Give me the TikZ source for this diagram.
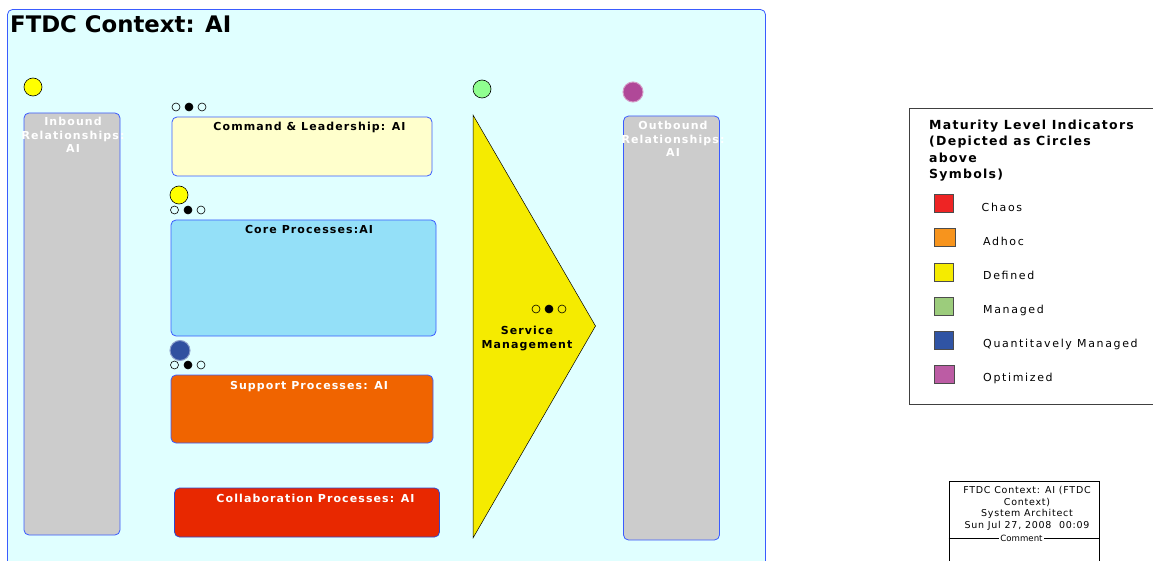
\documentclass[tikz,border=0pt]{standalone}
\usepackage{fontspec}
\setmainfont{DejaVu Sans}
\newfontfamily\lsfont[LetterSpace=10]{DejaVu Sans}
\newfontfamily\lslfont[LetterSpace=15]{DejaVu Sans}
\newfontfamily\infofont[LetterSpace=8]{DejaVu Sans}
\definecolor{framefill}{HTML}{E0FFFF}
\definecolor{boxblue}{HTML}{3A5BFF}
\definecolor{grayfill}{HTML}{CCCCCC}
\definecolor{cmdfill}{HTML}{FFFFCC}
\definecolor{corefill}{HTML}{94E0F8}
\definecolor{supfill}{HTML}{F06400}
\definecolor{colfill}{HTML}{E82800}
\definecolor{trifill}{HTML}{F5EB00}
\definecolor{ylw}{HTML}{FFFF00}
\definecolor{grn}{HTML}{90FF90}
\definecolor{qblue}{HTML}{3050A0}
\definecolor{purp}{HTML}{B04898}
\definecolor{lred}{HTML}{EE2424}
\definecolor{lorange}{HTML}{F7941D}
\definecolor{lyellow}{HTML}{F5EB00}
\definecolor{lgreen}{HTML}{9CCC7C}
\definecolor{lblue}{HTML}{3054A4}
\definecolor{lpink}{HTML}{BC5CA4}
\begin{document}
\begin{tikzpicture}[x=1pt,y=-1pt,
  box/.style={draw=boxblue, line width=0.8pt, rounded corners=5pt, inner sep=0pt, outer sep=0pt},
  lbl/.style={anchor=base, inner sep=0pt, align=center, font=\lsfont\bfseries\fontsize{11}{13.5}\selectfont},
  wlbl/.style={lbl, text=white},
  mcirc/.style={circle, draw=black, line width=0.6pt, minimum size=18pt, inner sep=0pt},
  softcirc/.style={circle, line width=1pt, minimum size=20pt, inner sep=0pt},
  dot/.style={circle, draw=black, line width=0.6pt, minimum size=8pt, inner sep=0pt},
  fdot/.style={dot, fill=black},
  legsq/.style={draw=black!70, line width=0.5pt, inner sep=0pt, minimum width=19pt, minimum height=18pt, anchor=north west},
  leglbl/.style={anchor=base west, inner sep=0pt, font=\lslfont\fontsize{11}{13}\selectfont},
  infolbl/.style={anchor=base, inner sep=0pt, font=\infofont\fontsize{9.5}{11.7}\selectfont}
]
\useasboundingbox (0,0) rectangle (1153,561);
% outer frame
\node[box, draw=boxblue, fill=framefill, minimum width=758pt, minimum height=570pt, anchor=north west] (frame) at (7.5,9.5) {};
\node[anchor=base west, inner sep=0pt, font=\bfseries\fontsize{22.8}{26}\selectfont] (title) at (10,33) {FTDC Context: AI};

% inbound
\node[box, fill=grayfill, minimum width=96pt, minimum height=422pt, anchor=north west] (inb) at (24,113) {};
\node[wlbl] (inbt) at (73,153) {Inbound\\Relationships:\\AI};
\node[mcirc, fill=ylw] (inbc) at (33,87) {};

% command
\node[box, fill=cmdfill, minimum width=260pt, minimum height=59pt, anchor=north west] (cmd) at (172,117) {};
\node[lbl] (cmdt) at (309.5,131) {Command \& Leadership: AI};
\node[dot] (d1a) at (176,107) {};
\node[fdot] (d1b) at (189,107) {};
\node[dot] (d1c) at (202,107) {};

% core
\node[mcirc, fill=ylw] (corec) at (179,195) {};
\node[dot] (d2a) at (174.5,210) {};
\node[fdot] (d2b) at (188,210) {};
\node[dot] (d2c) at (201,210) {};
\node[box, fill=corefill, minimum width=265pt, minimum height=116pt, anchor=north west] (core) at (171,220) {};
\node[lbl] (coret) at (309,234) {Core Processes:AI};

% support
\node[softcirc, fill=qblue, draw=qblue!55!white] (supc) at (180,350.5) {};
\node[dot] (d3a) at (174.5,365) {};
\node[fdot] (d3b) at (188,365) {};
\node[dot] (d3c) at (201,365) {};
\node[box, fill=supfill, minimum width=262pt, minimum height=68pt, anchor=north west] (sup) at (171,375) {};
\node[wlbl] (supt) at (309,389) {Support Processes: AI};

% collaboration
\node[box, fill=colfill, draw=boxblue!80!black, minimum width=265pt, minimum height=49pt, anchor=north west] (col) at (174.5,488) {};
\node[wlbl] (colt) at (315.5,502) {Collaboration Processes: AI};

% service management
\node[mcirc, fill=grn] (svcc) at (482,89) {};
\coordinate (tA) at (473,115);
\coordinate (tB) at (595.5,326);
\coordinate (tC) at (473,538);
\draw[fill=trifill, draw=black, line width=0.5pt] (tA) -- (tB) -- (tC) -- cycle;
\node[dot] (d4a) at (536,309) {};
\node[fdot] (d4b) at (549,309) {};
\node[dot] (d4c) at (562,309) {};
\node[lbl] (svct) at (527,348) {Service\\Management};

% outbound
\node[softcirc, fill=purp, draw=purp!55!white] (outc) at (633,92) {};
\node[box, fill=grayfill, minimum width=96pt, minimum height=424pt, anchor=north west] (outb) at (623.5,116) {};
\node[wlbl] (outbt) at (673,157) {Outbound\\Relationships:\\AI};

% legend
\node[draw=black!75, line width=0.7pt, fill=white, minimum width=260pt, minimum height=295pt, anchor=north west, inner sep=0pt] (leg) at (908.5,108.5) {};
\node[anchor=base west, inner sep=0pt, align=left, font=\lsfont\bfseries\fontsize{12.5}{16.5}\selectfont] (legt) at (929,179) {Maturity Level Indicators\\(Depicted as Circles\\above\\Symbols)};
\node[legsq, fill=lred] (sq1) at (934,194.5) {};
\node[legsq, fill=lorange, minimum width=21pt] (sq2) at (934,228.5) {};
\node[legsq, fill=lyellow] (sq3) at (934,263) {};
\node[legsq, fill=lgreen] (sq4) at (934,297) {};
\node[legsq, fill=lblue] (sq5) at (934,331) {};
\node[legsq, fill=lpink, minimum width=20pt] (sq6) at (934,365) {};
\node[leglbl] (l1) at (981.5,212) {Chaos};
\node[leglbl] (l2) at (983,245.5) {Adhoc};
\node[leglbl] (l3) at (983,279.5) {Defined};
\node[leglbl] (l4) at (983,313) {Managed};
\node[leglbl] (l5) at (983,347) {Quantitavely Managed};
\node[leglbl] (l6) at (983,381) {Optimized};

% info box
\node[draw=black, line width=0.7pt, fill=white, minimum width=150pt, minimum height=100pt, anchor=north west, inner sep=0pt] (info) at (948.5,480.5) {};
\node[infolbl] (i1) at (1027,493) {FTDC Context: AI (FTDC};
\node[infolbl] (i2) at (1027,505) {Context)};
\node[infolbl] (i3) at (1027,516.5) {System Architect};
\node[infolbl] (i4) at (1027,528) {Sun Jul 27, 2008\ \ 00:09};
\node[inner sep=1.5pt, font=\fontsize{8.6}{10}\selectfont] (cmt) at (1021.5,538) {Comment};
\draw[line width=0.6pt] (info.west |- cmt) -- (cmt.west);
\draw[line width=0.6pt] (cmt.east) -- (info.east |- cmt);
\end{tikzpicture}
\end{document}
